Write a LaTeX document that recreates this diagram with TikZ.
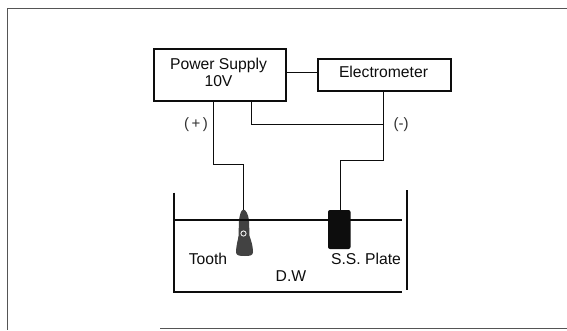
\documentclass[tikz,border=0pt]{standalone}
\usepackage{fontspec}
\setmainfont{Liberation Sans}
\usetikzlibrary{calc}
\definecolor{ink}{gray}{0.05}
\tikzset{
  boxa/.style={draw=ink,line width=2.2pt,inner sep=0pt,anchor=north west},
  wire/.style={draw=ink,line width=1.1pt,line join=miter},
  tank/.style={draw=ink,line width=2pt},
  lab/.style={font=\fontsize{15.7}{16}\selectfont,inner sep=0pt,text=ink,align=center},
  sml/.style={font=\fontsize{15}{14}\selectfont,inner sep=0pt,text=ink!85!white}
}
\begin{document}
\begin{tikzpicture}[x=1pt,y=-1pt]
\useasboundingbox[fill=white] (0,0) rectangle (567,330);
% outer frame
\coordinate (ftr) at (567,8.5);
\coordinate (ftl) at (7,8.5);
\coordinate (fbl) at (7,330);
\coordinate (fb1) at (160,328.5);
\coordinate (fb2) at (567,328.5);
\draw[ink!70!white,line width=0.8pt] (ftr) -- (ftl) -- (fbl);
\draw[ink!70!white,line width=0.8pt] (fb1) -- (fb2);
% boxes
\node[boxa,minimum width=132pt,minimum height=52pt] (ps) at (153,48) {};
\node[boxa,minimum width=133pt,minimum height=32pt] (em) at (317,57.5) {};
\node[lab] (pst) at (218.5,65) {Power Supply};
\node[lab] (psv) at (218.5,81.5) {10V};
\node[lab] (emt) at (383.5,72) {Electrometer};
\node[sml] (plus) at (196,125) {(\,+\,)};
\node[sml] (minus) at (401,125) {(-)};
% tank and water
\coordinate (tl1) at (174,192.5);
\coordinate (tl2) at (174,293);
\coordinate (tb2) at (402,292);
\coordinate (tb1) at (175,292);
\coordinate (tr1) at (406.5,190);
\coordinate (tr2) at (406.5,289.5);
\coordinate (wl) at (175,220);
\coordinate (wr) at (402,220);
\draw[tank] (tl1) -- (tl2) (tb1) -- (tb2) (tr1) -- (tr2);
\draw[tank] (wl) -- (wr);
% specimens
\coordinate (tt) at (243.5,209.5);
\fill[ink!78!white] (tt) .. controls (246,210) and (248,214) .. (249,220) -- (249.5,236)
  .. controls (251,240) and (253,246) .. (253,252) .. controls (253,255.5) and (250,256) .. (245,256)
  .. controls (239,256) and (236,255.5) .. (236,252) .. controls (236,246) and (238,240) .. (238.5,236)
  -- (239,220) .. controls (240,214) and (241,210) .. (tt) -- cycle;
\draw[ink,line width=2pt] (239,220) -- (249,220);
\draw[white,line width=0.8pt] (243.5,233.5) circle (2.6pt);
\coordinate (pt) at (340.5,210);
\fill[ink,rounded corners=2pt] (328,210) rectangle (350.5,249);
% texts in tank
\node[lab] (tooth) at (208,258.5) {Tooth};
\node[lab] (plate) at (366,258.5) {S.S. Plate};
\node[lab] (dw) at (291,276) {D.W};
% connectors
\coordinate (j) at (383.5,124.5);
\coordinate (ps1) at (213.5,100);
\coordinate (ps2) at (251.5,100);
\draw[wire] (ps.east |- 0,72.5) -- (em.west |- 0,72.5);
\draw[wire] (ps1) |- (243.5,164.5) -- (tt);
\draw[wire] (ps2) |- (j);
\draw[wire] (em.south -| j) -- (j) |- (340.5,160.5) -- (pt);
\end{tikzpicture}
\end{document}
